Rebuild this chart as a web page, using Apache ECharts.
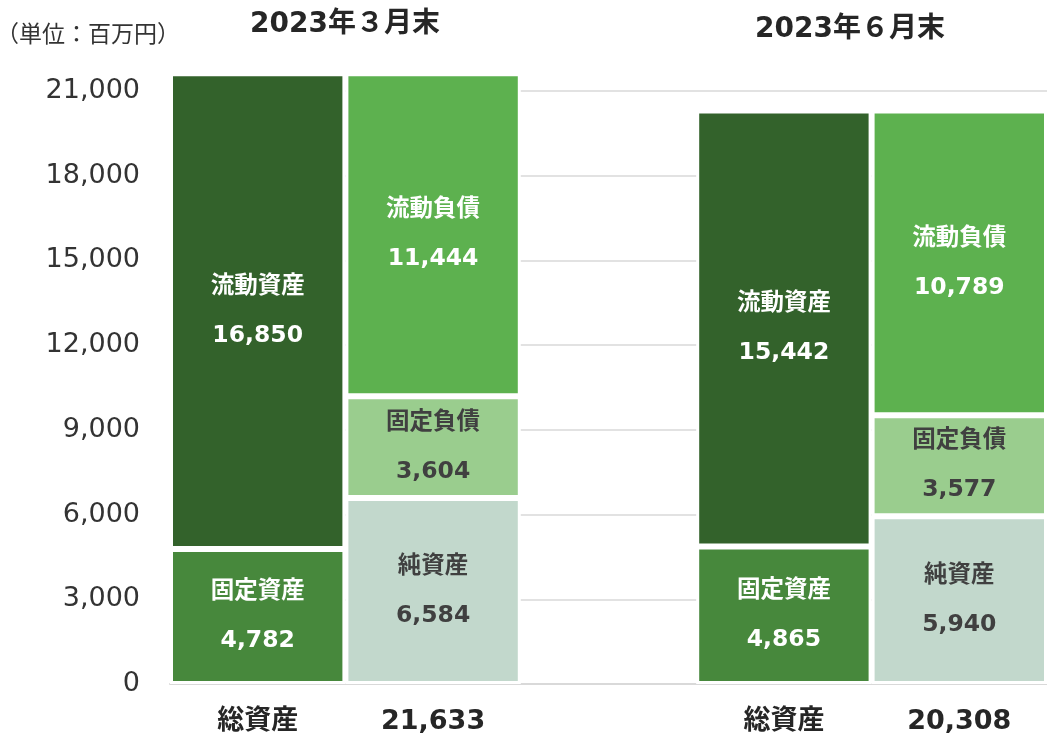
<!DOCTYPE html>
<html>
<head>
<meta charset="utf-8">
<script src="https://cdn.jsdelivr.net/npm/echarts@6/dist/echarts.min.js"></script>
<style>html,body{margin:0;padding:0;background:#fff;}#c{width:1047px;height:738px;}</style>
</head>
<body>
<div id="c"></div>
<script>
// Categories: [Mar assets, Mar liabilities, gap, Jun assets, Jun liabilities]
const periods = ['2023年３月末', '2023年６月末'];
const totals = [21633, 20308];
const totalLabel = '総資産';
const unitLabel = '（単位：百万円）';
const yTicks = [0, 3000, 6000, 9000, 12000, 15000, 18000, 21000];

const koteiShisan = [4782, null, null, 4865, null];   // 固定資産
const ryudoShisan = [16850, null, null, 15442, null]; // 流動資産
const junShisan = [null, 6584, null, null, 5940];     // 純資産
const koteiFusai = [null, 3604, null, null, 3577];    // 固定負債
const ryudoFusai = [null, 11444, null, null, 10789];  // 流動負債

const fmt = v => Number(v).toLocaleString('en-US');
const categories = [totalLabel, fmt(totals[0]), '', totalLabel, fmt(totals[1])];

const FONT = '"DejaVu Sans", "Noto Sans CJK JP", sans-serif';

function mk(name, data, color, textColor) {
  return {
    name: name, type: 'bar', stack: 'bs', data: data,
    barCategoryGap: '0%', clip: false,
    itemStyle: { color: color, borderColor: '#ffffff', borderWidth: 3 },
    label: {
      show: true, position: 'inside', color: textColor,
      fontFamily: FONT, fontWeight: 'bold', fontSize: 23.5, lineHeight: 49,
      formatter: p => p.seriesName + '\n' + fmt(p.value)
    },
    emphasis: { disabled: true }
  };
}

const chart = echarts.init(document.getElementById('c'), null, { renderer: 'canvas' });
chart.setOption({
  animation: false,
  backgroundColor: '#ffffff',
  textStyle: { fontFamily: FONT },
  title: [
    { text: unitLabel, left: -9, top: 20, textStyle: { fontFamily: FONT, fontSize: 23, fontWeight: 'normal', color: '#333' } },
    { text: periods[0], left: 340, top: 6, textAlign: 'center', textStyle: { fontFamily: FONT, fontSize: 28, fontWeight: 'bold', color: '#262626' } },
    { text: periods[1], left: 845, top: 11, textAlign: 'center', textStyle: { fontFamily: FONT, fontSize: 28, fontWeight: 'bold', color: '#262626' } }
  ],
  grid: { left: 170, right: -5, top: 91, bottom: 54, containLabel: false },
  xAxis: {
    type: 'category', data: categories,
    axisLine: { show: true, lineStyle: { color: '#d9d9d9', width: 2 } },
    axisTick: { show: false },
    axisLabel: { margin: 24, fontFamily: FONT, fontSize: 27, fontWeight: 'bold', color: '#262626', interval: 0 }
  },
  yAxis: {
    type: 'value', min: yTicks[0], max: yTicks[yTicks.length - 1], interval: yTicks[1] - yTicks[0],
    axisLine: { show: false }, axisTick: { show: false },
    splitLine: { lineStyle: { color: '#d9d9d9', width: 1.5 } },
    axisLabel: { margin: 30, fontFamily: FONT, fontSize: 27, color: '#333', formatter: v => fmt(v) }
  },
  series: [
    mk('固定資産', koteiShisan, '#47883c', '#ffffff'),
    mk('流動資産', ryudoShisan, '#33622b', '#ffffff'),
    mk('純資産', junShisan, '#c2d8cc', '#404040'),
    mk('固定負債', koteiFusai, '#9acd8e', '#404040'),
    mk('流動負債', ryudoFusai, '#5db14f', '#ffffff')
  ]
});
</script>
</body>
</html>
